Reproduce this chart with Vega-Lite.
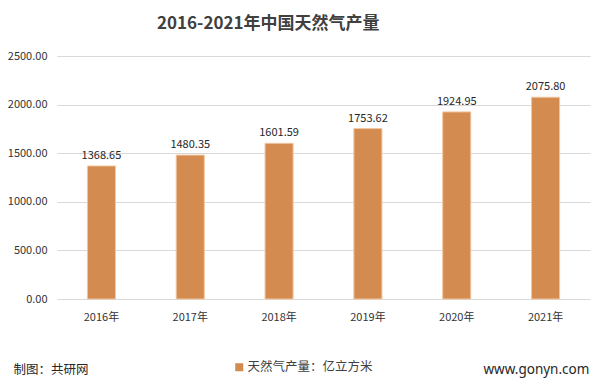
{
  "$schema": "https://vega.github.io/schema/vega-lite/v6.json",
  "autosize": {"type": "none"},
  "padding": {"left": 57, "top": 56, "right": 22, "bottom": 90},
  "width": 533,
  "height": 243,
  "background": "#FFFFFF",
  "title": {
    "text": "2016-2021年中国天然气产量",
    "anchor": "start",
    "frame": "group",
    "dx": 100,
    "offset": 17,
    "fontSize": 17,
    "fontWeight": "bold",
    "color": "#404040",
    "font": "Noto Sans CJK SC"
  },
  "data": {
    "values": [
      {"year": "2016年", "value": 1368.65, "series": "天然气产量：亿立方米"},
      {"year": "2017年", "value": 1480.35, "series": "天然气产量：亿立方米"},
      {"year": "2018年", "value": 1601.59, "series": "天然气产量：亿立方米"},
      {"year": "2019年", "value": 1753.62, "series": "天然气产量：亿立方米"},
      {"year": "2020年", "value": 1924.95, "series": "天然气产量：亿立方米"},
      {"year": "2021年", "value": 2075.80, "series": "天然气产量：亿立方米"}
    ]
  },
  "encoding": {
    "x": {
      "field": "year",
      "type": "nominal",
      "sort": null,
      "scale": {"paddingInner": 0.684, "paddingOuter": 0.342},
      "axis": {
        "title": "制图：共研网",
        "titleX": -44,
        "titleY": 74,
        "titleAlign": "left",
        "titleAnchor": "start",
        "titleBaseline": "alphabetic",
        "titleFontSize": 12.5,
        "titleFontWeight": "normal",
        "titleColor": "#262626",
        "titleFont": "Noto Sans CJK SC",
        "labelAngle": 0,
        "labelPadding": 12,
        "labelFontSize": 11,
        "labelColor": "#333333",
        "labelFont": "Noto Sans CJK SC",
        "ticks": false,
        "domainColor": "#D9D9D9",
        "domainWidth": 1
      }
    },
    "y": {
      "field": "value",
      "type": "quantitative",
      "scale": {"domain": [0, 2500], "nice": false},
      "axis": {
        "values": [0, 500, 1000, 1500, 2000, 2500],
        "format": ".2f",
        "title": "www.gonyn.com",
        "titleAngle": 0,
        "titleX": 426,
        "titleY": 317,
        "titleAlign": "left",
        "titleAnchor": "start",
        "titleBaseline": "alphabetic",
        "titleFontSize": 13.5,
        "titleFontWeight": "normal",
        "titleColor": "#262626",
        "titleFont": "Noto Sans",
        "labelPadding": 10,
        "labelFontSize": 11,
        "labelColor": "#333333",
        "labelFont": "Noto Sans CJK SC",
        "ticks": false,
        "domain": false,
        "gridColor": "#D9D9D9",
        "gridWidth": 1
      }
    }
  },
  "layer": [
    {
      "mark": {"type": "bar", "stroke": "#F2C6A0", "strokeWidth": 1},
      "encoding": {
        "color": {
          "field": "series",
          "type": "nominal",
          "scale": {"range": ["#D48B4F"]},
          "legend": {
            "title": null,
            "orient": "none",
            "legendX": 176,
            "legendY": 305,
            "symbolType": "square",
            "symbolSize": 64,
            "symbolStrokeWidth": 0,
            "symbolOpacity": 1,
            "labelFontSize": 12.5,
            "labelColor": "#404040",
            "labelFont": "Noto Sans CJK SC",
            "labelOffset": 2
          }
        }
      }
    },
    {
      "mark": {
        "type": "text",
        "baseline": "bottom",
        "dy": -5,
        "fontSize": 11,
        "color": "#262626",
        "font": "Noto Sans CJK SC"
      },
      "encoding": {
        "text": {"field": "value", "type": "quantitative", "format": ".2f"}
      }
    }
  ],
  "config": {
    "view": {"stroke": null}
  }
}
